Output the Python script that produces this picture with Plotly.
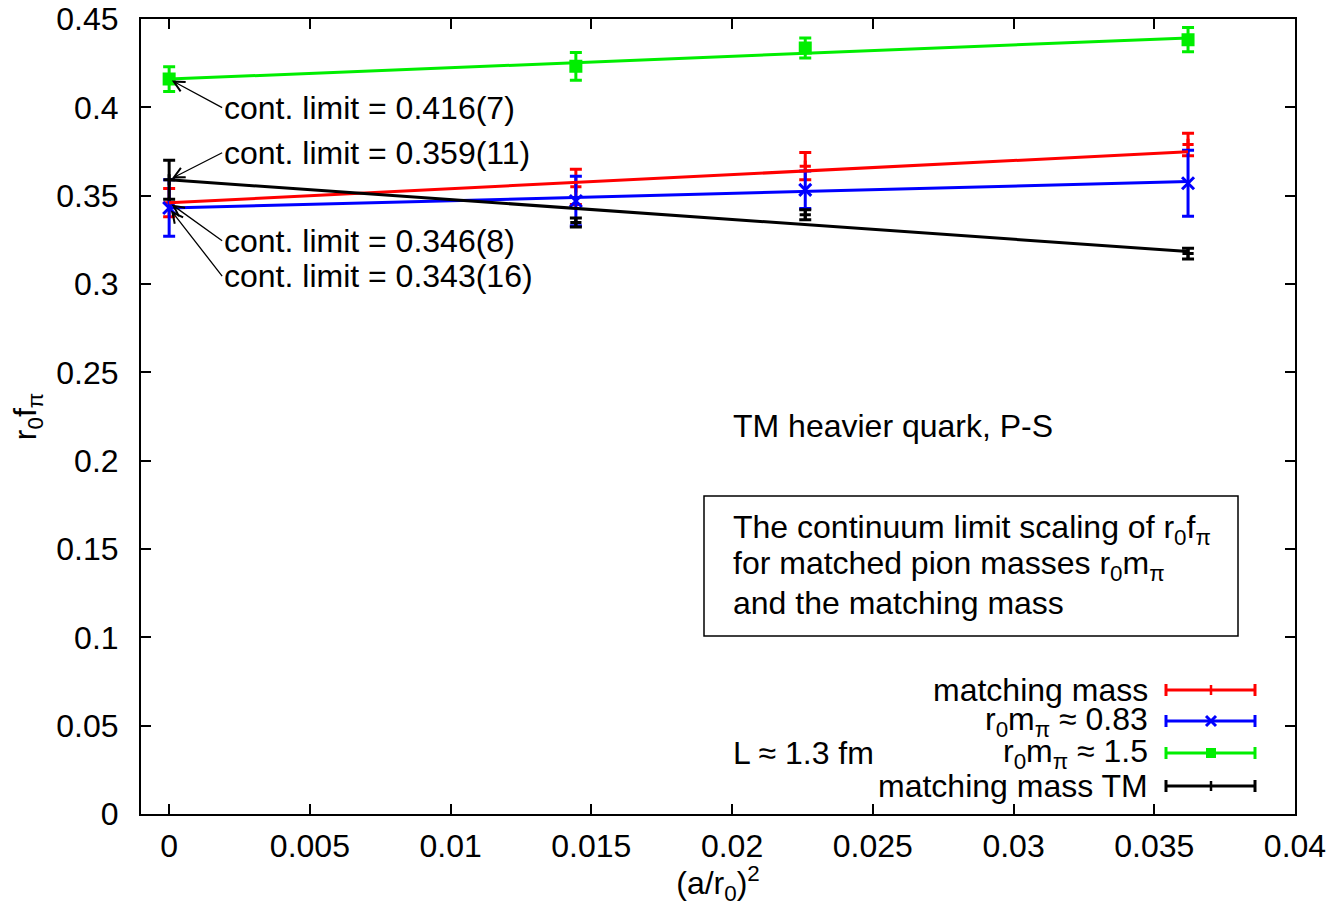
import plotly.graph_objects as go

# (a/r0)^2 : continuum point at 0 followed by the three lattice spacings
x_vals = [0.0, 0.01445, 0.0226, 0.0362]

# r0 f_pi with errors, one list per series
red_y = [0.346, 0.355, 0.3667, 0.379]
red_err = [0.008, 0.010, 0.0077, 0.0064]
blue_y = [0.343, 0.347, 0.3533, 0.357]
blue_err = [0.016, 0.014, 0.0106, 0.0187]
green_y = [0.416, 0.4232, 0.4336, 0.4383]
green_err = [0.007, 0.0078, 0.0057, 0.0069]
black_y = [0.359, 0.3348, 0.3392, 0.3172]
black_err = [0.011, 0.0026, 0.0028, 0.0031]

# linear continuum fits, evaluated at both ends of the fit range
fit_x = [0.0, 0.0362]
red_fit = [0.346, 0.3748]
blue_fit = [0.343, 0.358]
green_fit = [0.416, 0.4393]
black_fit = [0.359, 0.3184]

legend_names = ["matching mass", "r<sub>0</sub>m<sub>π</sub> ≈ 0.83",
                "r<sub>0</sub>m<sub>π</sub> ≈ 1.5", "matching mass TM"]
cont_labels = ["cont. limit = 0.416(7)", "cont. limit = 0.359(11)",
               "cont. limit = 0.346(8)", "cont. limit = 0.343(16)"]
cont_values = [0.416, 0.359, 0.346, 0.343]

x_ticks = [0, 0.005, 0.01, 0.015, 0.02, 0.025, 0.03, 0.035, 0.04]
x_ticktext = ["0", "0.005", "0.01", "0.015", "0.02", "0.025", "0.03", "0.035", "0.04"]
y_ticks = [0, 0.05, 0.1, 0.15, 0.2, 0.25, 0.3, 0.35, 0.4, 0.45]
y_ticktext = ["0", "0.05", "0.1", "0.15", "0.2", "0.25", "0.3", "0.35", "0.4", "0.45"]

RED, BLUE, GREEN, BLACK = "#ff0000", "#0000ff", "#00ee00", "#000000"
FONT = "Liberation Sans, Arial, sans-serif"
FS = 32

W, H = 1336, 906
ML, MR, MT, MB = 141, 41, 19, 92
PW, PH = W - ML - MR, H - MT - MB


def px(x):
    return (x - ML) / PW


def py(y):
    return (H - MB - y) / PH


fig = go.Figure()

series = [
    (red_y, red_err, RED, "cross-thin", 8),
    (blue_y, blue_err, BLUE, "x-thin", 12),
    (green_y, green_err, GREEN, "square", 10),
    (black_y, black_err, BLACK, "cross-thin", 8),
]
for yv, ev, col, sym, sz in series:
    fig.add_trace(go.Scatter(
        x=x_vals, y=yv, mode="markers",
        marker=dict(symbol=sym, size=sz, color=col,
                    line=dict(color=col, width=3)),
        error_y=dict(type="data", array=ev, visible=True,
                     color=col, thickness=3, width=6),
        showlegend=False, hoverinfo="skip"))

for fy, col in [(red_fit, RED), (blue_fit, BLUE), (green_fit, GREEN), (black_fit, BLACK)]:
    fig.add_trace(go.Scatter(
        x=fit_x, y=fy, mode="lines", line=dict(color=col, width=3),
        showlegend=False, hoverinfo="skip"))

annotations = []
# arrows from the labels to the continuum values at (a/r0)^2 = 0
label_offsets = [(53, 28.6), (53, -27), (53, 38), (53, 68)]
for txt, val, (ax, ay) in zip(cont_labels, cont_values, label_offsets):
    annotations.append(dict(
        x=0, y=val, xref="x", yref="y", text=txt, showarrow=True,
        ax=ax, ay=ay, xanchor="left", yanchor="middle",
        arrowhead=5, arrowsize=1.6, arrowwidth=1.3, arrowcolor="black",
        standoff=3, font=dict(size=FS, color="black", family=FONT)))


def label(x, y, text, anchor="left"):
    annotations.append(dict(
        x=px(x), y=py(y), xref="paper", yref="paper", text=text,
        showarrow=False, xanchor=anchor, yanchor="middle",
        font=dict(size=FS, color="black", family=FONT)))


label(731, 426, "TM heavier quark, P-S")
label(731, 529, "The continuum limit scaling of r<sub>0</sub>f<sub>π</sub>")
label(731, 565, "for matched pion masses r<sub>0</sub>m<sub>π</sub>")
label(731, 603, "and the matching mass")
label(731, 753, "L ≈ 1.3 fm")

shapes = [dict(type="rect", xref="paper", yref="paper",
               x0=px(704), x1=px(1238), y0=py(636), y1=py(496),
               line=dict(color="black", width=1.5))]

# key: right-aligned names with an error-bar sample
key_rows = [690, 721, 753, 786]
key_cols = [RED, BLUE, GREEN, BLACK]
for name, yrow, col, i in zip(legend_names, key_rows, key_cols, range(4)):
    label(1150, yrow, name, anchor="right")
    shapes.append(dict(type="line", xref="paper", yref="paper",
                       x0=px(1166), x1=px(1255), y0=py(yrow), y1=py(yrow),
                       line=dict(color=col, width=3)))
    for xe in (1166, 1255):
        shapes.append(dict(type="line", xref="paper", yref="paper",
                           x0=px(xe), x1=px(xe), y0=py(yrow - 6), y1=py(yrow + 6),
                           line=dict(color=col, width=3)))
    xm = 1211
    if i in (0, 3):
        shapes.append(dict(type="line", xref="paper", yref="paper",
                           x0=px(xm), x1=px(xm), y0=py(yrow - 5), y1=py(yrow + 5),
                           line=dict(color=col, width=2.5)))
    elif i == 1:
        for d in (1, -1):
            shapes.append(dict(type="line", xref="paper", yref="paper",
                               x0=px(xm - 5), x1=px(xm + 5),
                               y0=py(yrow - 5 * d), y1=py(yrow + 5 * d),
                               line=dict(color=col, width=3)))
    else:
        shapes.append(dict(type="rect", xref="paper", yref="paper",
                           x0=px(xm - 5), x1=px(xm + 5), y0=py(yrow + 5), y1=py(yrow - 5),
                           fillcolor=col, line=dict(color=col, width=0)))

axis_common = dict(
    showline=True, linecolor="black", linewidth=2, mirror="allticks",
    ticks="inside", ticklen=10, tickwidth=1.5, tickcolor="black",
    showgrid=False, zeroline=False, automargin=False,
    tickfont=dict(size=FS, color="black", family=FONT),
)

fig.update_layout(
    width=W, height=H,
    margin=dict(l=ML, r=MR, t=MT, b=MB),
    paper_bgcolor="white", plot_bgcolor="white",
    font=dict(family=FONT, size=FS, color="black"),
    xaxis=dict(range=[-0.001, 0.04], tickvals=x_ticks, ticktext=x_ticktext,
               ticklabelstandoff=3,
               title=dict(text="(a/r<sub>0</sub>)<sup>2</sup>", standoff=0,
                          font=dict(size=FS, family=FONT, color="black")),
               **axis_common),
    yaxis=dict(range=[0, 0.45], tickvals=y_ticks, ticktext=y_ticktext,
               ticklabelstandoff=14,
               title=dict(text="r<sub>0</sub>f<sub>π</sub>", standoff=10,
                          font=dict(size=FS, family=FONT, color="black")),
               **axis_common),
    annotations=annotations,
    shapes=shapes,
    showlegend=False,
)

fig.write_html("out.html")
